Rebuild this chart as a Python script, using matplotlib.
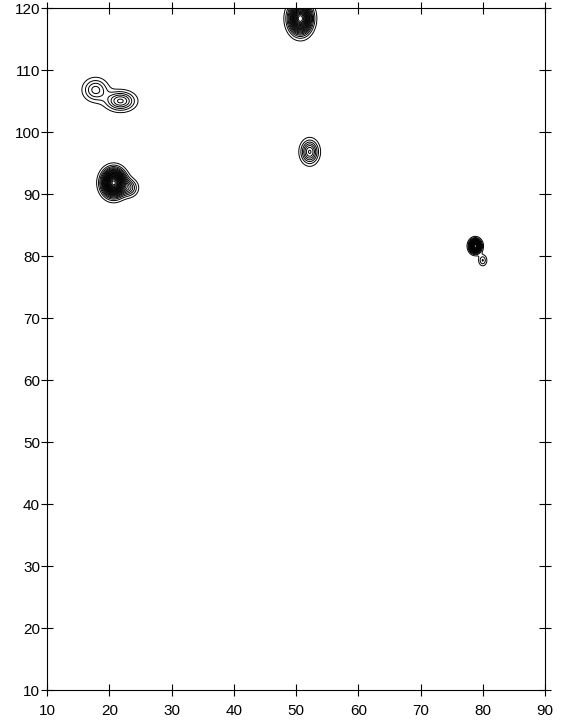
import numpy as np
import matplotlib
matplotlib.use("Agg")
import matplotlib.pyplot as plt

# Peak parameters (centre x, centre y, height, width x, width y)
peak_x = [17.8, 21.8, 20.7, 23.2, 50.7, 52.2, 78.8, 80.0]
peak_y = [106.8, 105.0, 91.8, 91.0, 118.3, 96.8, 81.6, 79.3]
peak_h = [5.0, 7.0, 26.0, 5.0, 22.0, 8.0, 22.0, 3.5]
peak_sx = [1.3, 1.5, 1.1, 0.9, 1.1, 0.9, 0.55, 0.45]
peak_sy = [1.2, 1.0, 1.3, 0.9, 1.5, 1.2, 0.65, 0.6]

x_ticks = [10, 20, 30, 40, 50, 60, 70, 80, 90]
y_ticks = [10, 20, 30, 40, 50, 60, 70, 80, 90, 100, 110, 120]

xs = np.linspace(10, 90, 900)
ys = np.linspace(10, 122, 1200)
X, Y = np.meshgrid(xs, ys)
Z = np.zeros_like(X)
for px, py, ph, sx, sy in zip(peak_x, peak_y, peak_h, peak_sx, peak_sy):
    Z += ph * np.exp(-((X - px) ** 2 / (2 * sx ** 2) + (Y - py) ** 2 / (2 * sy ** 2)))

levels = np.arange(1.2, 30.0, 1.1)

plt.rcParams['font.family'] = ['Liberation Sans', 'DejaVu Sans']
fig = plt.figure(figsize=(5.62, 7.2), dpi=100)
ax = fig.add_axes([47 / 562, 30 / 720, 498 / 562, 682 / 720])
ax.contour(X, Y, Z, levels=levels, colors="black", linewidths=0.7)
ax.set_xlim(10, 90)
ax.set_ylim(10, 120)
ax.set_xticks(x_ticks)
ax.set_yticks(y_ticks)
ax.tick_params(axis="both", direction="inout", length=8, width=0.8, labelsize=11,
               top=True, right=True)
ax.tick_params(axis="x", pad=6)
ax.tick_params(axis="y", pad=1)
for s in ax.spines.values():
    s.set_linewidth(0.8)
fig.savefig("out.png", dpi=100)
